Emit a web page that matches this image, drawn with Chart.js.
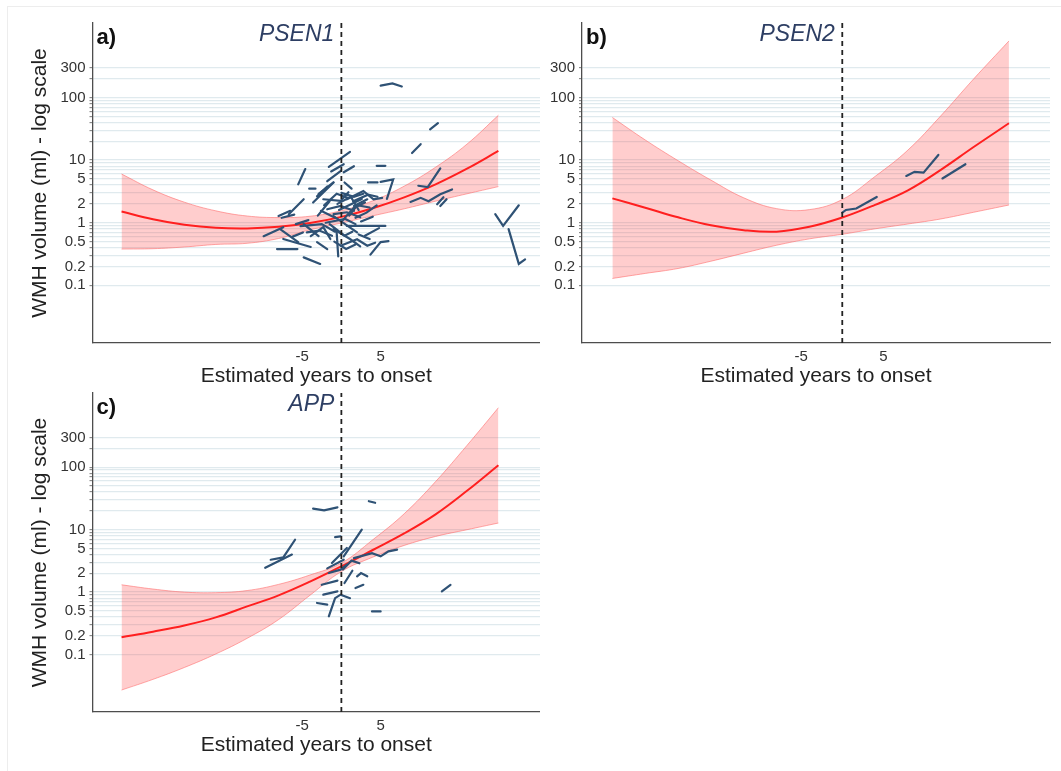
<!DOCTYPE html>
<html>
<head>
<meta charset="utf-8">
<script src="https://cdn.jsdelivr.net/npm/chart.js@4.4.0/dist/chart.umd.min.js"></script>
<style>
  body { margin: 0; background: #fff; width: 1061px; height: 771px; overflow: hidden; position: relative; }
  canvas { position: absolute; }
  #frame { position: absolute; left: 7px; top: 6px; right: 0; bottom: 0; border-top: 1px solid #ededed; border-left: 1px solid #ededed; }
</style>
</head>
<body>
<div id="frame"></div>
<canvas id="psen1" width="540" height="389" style="left:0;top:0"></canvas>
<canvas id="psen2" width="521" height="389" style="left:540px;top:0"></canvas>
<canvas id="app" width="540" height="388" style="left:0;top:370px"></canvas>
<script>
// ---- data ----
// fitted trajectory (ml) and its band, at these estimated years to onset
const psen1Years = [-28, -24, -20, -16, -12, -8, -4, 0, 4, 8, 12, 16, 20];
const psen1Fit   = [1.51, 1.14, 0.93, 0.83, 0.81, 0.86, 0.99, 1.24, 1.70, 2.54, 4.1, 7.3, 14];
const psen1Hi    = [6.0, 3.35, 2.13, 1.55, 1.28, 1.21, 1.27, 1.56, 2.24, 3.84, 7.7, 18, 52];
const psen1Lo    = [0.38, 0.385, 0.41, 0.45, 0.47, 0.56, 0.77, 0.99, 1.29, 1.67, 2.21, 2.9, 3.78];

const psen2Years = [-28, -24, -20, -16, -12, -8, -4, 0, 4, 8, 12, 16, 20.3];
const psen2Fit   = [2.45, 1.74, 1.22, 0.91, 0.76, 0.72, 0.86, 1.21, 1.93, 3.3, 7.0, 16.2, 38.8];
const psen2Hi    = [48, 21, 9.8, 4.8, 2.5, 1.68, 1.62, 2.35, 5.5, 14.5, 51, 198, 800];
const psen2Lo    = [0.129, 0.155, 0.186, 0.243, 0.327, 0.437, 0.553, 0.655, 0.80, 0.955, 1.15, 1.47, 1.92];

const appYears = [-28, -24, -20, -16, -12, -8, -4, 0, 4, 8, 12, 16, 20];
const appFit   = [0.189, 0.232, 0.292, 0.394, 0.59, 0.887, 1.47, 2.59, 4.73, 8.7, 17.6, 42, 108];
const appHi    = [1.31, 1.12, 1.0, 0.98, 1.06, 1.33, 1.88, 2.92, 6.9, 18, 59, 224, 900];
const appLo    = [0.027, 0.040, 0.062, 0.102, 0.182, 0.363, 0.89, 2.14, 3.63, 5.6, 7.8, 10, 12.8];

// individual subject trajectories: [years, ml] pairs
const psen1Lines = [
  [[5.0,155],[6.5,168],[7.7,150]],
  [[11.3,31],[12.3,39]],
  [[9.0,13],[10.1,18]],
  [[4.5,8.1],[5.6,8.1]],
  [[-1.6,7.8],[1.1,13.5]],
  [[-1.3,6.6],[0.3,8.6]],
  [[-5.5,4.1],[-4.6,7.2]],
  [[-4.1,3.5],[-3.3,3.5]],
  [[-2.9,2.9],[-1.0,4.4]],
  [[-1.8,4.6],[-0.1,6.7]],
  [[0.3,6.4],[1.6,8.0]],
  [[3.4,4.4],[4.6,4.4]],
  [[5.0,4.5],[6.6,4.9],[5.8,2.4]],
  [[9.8,3.9],[11.0,3.7],[12.6,7.4]],
  [[8.8,2.15],[10.1,2.5],[11.1,2.2],[12.6,2.85],[14.1,3.4]],
  [[12.2,1.97],[13.0,2.55]],
  [[12.6,1.85],[13.4,2.37]],
  [[19.6,1.37],[20.6,0.89],[22.6,1.9]],
  [[21.3,0.79],[22.6,0.22],[23.4,0.26]],
  [[-6.7,1.37],[-4.8,2.37]],
  [[-8.0,1.28],[-6.5,1.55]],
  [[-7.6,1.2],[-6.0,1.35]],
  [[-3.6,2.1],[-1.0,4.4]],
  [[-3.1,2.65],[-1.8,3.8]],
  [[-2.3,2.37],[-0.1,2.23],[0.9,3.07]],
  [[-1.8,1.64],[-0.1,1.85],[1.6,1.55]],
  [[-1.0,1.37],[0.7,1.47],[2.4,1.22]],
  [[0.7,2.37],[2.8,3.2],[4.1,2.37],[5.2,2.5]],
  [[1.6,1.85],[3.3,2.37]],
  [[-1.0,1.28],[2.0,0.7]],
  [[-4.8,0.95],[-2.9,0.61]],
  [[-8.2,0.38],[-5.6,0.38]],
  [[-4.8,0.28],[-2.7,0.22]],
  [[-0.1,0.43],[2.0,0.545],[3.3,0.43],[4.3,0.48]],
  [[3.7,0.31],[5.0,0.49],[6.0,0.51]],
  [[-9.9,0.61],[-7.4,0.85]],
  [[-7.8,0.79],[-5.5,0.49]],
  [[-7.4,0.55],[-3.9,0.41]],
  [[-3.9,0.61],[-2.3,0.85],[-1.4,0.55]],
  [[-3.1,0.49],[-1.8,0.38]],
  [[-1.0,0.79],[1.1,0.55],[2.4,0.42]],
  [[-0.6,0.7],[-0.4,0.29]],
  [[0.7,0.89],[5.6,0.89]],
  [[3.0,0.62],[4.8,0.82]],
  [[-5.2,0.88],[-2.5,0.95],[-0.8,0.72]],
  [[-2.0,1.0],[0.5,1.15],[1.8,0.95]],
  [[-0.5,2.0],[1.2,2.6],[2.2,1.6]],
  [[0.2,1.1],[1.5,1.7],[3.0,2.1]],
  [[-3.0,1.3],[-1.5,2.2]],
  [[1.0,1.3],[2.0,1.9],[3.6,1.75]],
  [[-5.8,0.95],[-4.2,1.1]],
  [[-1.5,0.95],[0.4,0.62],[1.4,0.72]],
  [[2.5,1.05],[4.0,1.25]],
  [[-2.6,1.55],[-0.8,1.2]],
  [[0.0,3.0],[1.6,2.6],[2.8,2.9]],
  [[1.5,2.2],[3.4,2.8],[4.6,2.6]],
  [[-2.2,1.9],[-0.6,2.9],[0.8,2.5]],
  [[-0.3,1.6],[1.3,2.0],[2.6,2.4]],
  [[1.8,1.2],[3.2,1.45],[4.5,1.9]],
  [[-4.4,0.7],[-2.8,0.75],[-1.2,0.62]],
  [[-0.9,0.5],[0.6,0.38],[1.8,0.45]],
  [[2.2,0.65],[3.6,0.55]],
  [[-6.2,0.6],[-4.9,0.7]],
  [[0.4,4.4],[1.3,3.5]]
];

const psen2Lines = [
  [[0.0,1.45],[0.45,1.6],[1.7,1.69],[4.2,2.58]],
  [[7.8,5.6],[8.8,6.5],[9.9,6.3],[11.7,12.1]],
  [[12.2,5.1],[15.0,8.6]]
];

const appLines = [
  [[-3.6,21.8],[-2.2,20.4],[-0.5,22.8]],
  [[3.5,28.6],[4.3,27]],
  [[-0.8,7.6],[-0.1,7.8]],
  [[-9.0,3.3],[-7.4,3.6],[-5.9,6.9]],
  [[-9.7,2.45],[-6.3,4.0]],
  [[-1.2,2.92],[0.7,5.1]],
  [[0.3,3.74],[2.6,10.0]],
  [[1.6,3.5],[3.9,4.2],[5.0,3.74],[6.0,4.5],[7.1,4.8]],
  [[-1.6,2.02],[-0.1,2.29],[0.7,2.76]],
  [[-2.5,1.31],[-0.5,1.53]],
  [[2.0,1.79],[2.5,2.02],[3.3,1.79]],
  [[1.8,1.16],[2.8,1.31]],
  [[-2.3,0.91],[-0.5,1.03]],
  [[-3.1,0.67],[-1.8,0.63]],
  [[-1.6,0.41],[-0.8,0.8],[-0.1,0.91],[1.1,0.8]],
  [[3.9,0.49],[5.0,0.49]],
  [[12.8,1.03],[13.9,1.31]],
  [[-1.8,2.4],[0.3,3.3]],
  [[0.4,1.4],[1.4,2.2]],
  [[0.2,2.3],[1.3,3.2],[2.3,2.9]]
];

// axis ticks
const xTickVals = [-5, 5];
const yTickLabels = [0.1, 0.2, 0.5, 1, 2, 5, 10, 100, 300];
const xRange = [-31.7, 25.3];
const yRange = [0.012, 1550];

// ---- styling ----
const FONT = '"Liberation Sans", Arial, Helvetica, sans-serif';
const subjColour = '#2f5275';
const fitColour = '#ff1f1f';
const bandFill = 'rgba(255, 40, 40, 0.23)';
const bandEdge = 'rgba(255, 110, 110, 0.6)';
const gridColour = '#e0eaee';

// minor log gridlines 0.1 .. 300
const yGridVals = [];
for (let k = -1; k <= 2; k++) {
  for (let m = 1; m <= 9; m++) {
    const v = +(m * Math.pow(10, k)).toPrecision(2);
    if (v <= 300) yGridVals.push(v);
  }
}

const panelText = {
  id: 'panelText',
  afterDatasetsDraw(chart, args, opts) {
    const { ctx, scales: { x, y } } = chart;
    ctx.save();
    ctx.textBaseline = 'middle';
    ctx.font = 'bold 22px ' + FONT;
    ctx.fillStyle = '#111';
    ctx.textAlign = 'left';
    ctx.fillText(opts.letter, x.left + 4, y.getPixelForValue(880));
    ctx.font = 'italic 23px ' + FONT;
    ctx.fillStyle = '#2d3e63';
    ctx.textAlign = 'right';
    ctx.fillText(opts.gene, x.getPixelForValue(-0.9), y.getPixelForValue(1000));
    ctx.restore();
  }
};

function buildDatasets(years, fit, lo, hi, lines) {
  const pts = arr => years.map((x, i) => ({ x: x, y: arr[i] }));
  const ds = [];
  // onset marker
  ds.push({ data: [{ x: 0, y: yRange[0] }, { x: 0, y: yRange[1] }],
            borderColor: '#222', borderWidth: 1.8, borderDash: [5, 4], order: 0 });
  lines.forEach(l => ds.push({
    data: l.map(p => ({ x: p[0], y: p[1] })),
    borderColor: subjColour, borderWidth: 2.2, borderCapStyle: 'round', order: 1
  }));
  ds.push({ data: pts(fit), borderColor: fitColour, borderWidth: 2, tension: 0.4, order: 2 });
  ds.push({ data: pts(lo), borderColor: bandEdge, borderWidth: 1, tension: 0.4, order: 3 });
  ds.push({ data: pts(hi), borderColor: bandEdge, borderWidth: 1, tension: 0.4,
            fill: '-1', backgroundColor: bandFill, order: 4 });
  return ds;
}

function makePanel(id, letter, gene, years, fit, lo, hi, lines, withYTitle, yWidth, padRight) {
  new Chart(document.getElementById(id), {
    type: 'scatter',
    data: { datasets: buildDatasets(years, fit, lo, hi, lines) },
    options: {
      responsive: false,
      animation: false,
      devicePixelRatio: 1,
      layout: { padding: { left: withYTitle ? 28 : 0, top: 23, right: padRight, bottom: 0 } },
      datasets: { scatter: { showLine: true, pointRadius: 0, pointHoverRadius: 0, fill: false } },
      plugins: {
        legend: { display: false },
        tooltip: { enabled: false },
        panelText: { letter: letter, gene: gene }
      },
      scales: {
        x: {
          type: 'linear',
          min: xRange[0], max: xRange[1],
          afterBuildTicks: s => { s.ticks = xTickVals.map(v => ({ value: v })); },
          afterFit: s => { s.height = 46; },
          grid: { display: false, drawTicks: false },
          border: { display: true, color: '#4d4d4d', width: 1.3 },
          ticks: { padding: 5, color: '#333', font: { family: FONT, size: 15 }, callback: v => String(v) },
          title: { display: true, text: 'Estimated years to onset', color: '#222',
                   font: { family: FONT, size: 21 }, padding: { top: 0, bottom: 0 } }
        },
        y: {
          type: 'logarithmic',
          min: yRange[0], max: yRange[1],
          afterBuildTicks: s => { s.ticks = yGridVals.map(v => ({ value: v })); },
          afterFit: s => { s.width = yWidth; },
          grid: { color: gridColour, lineWidth: 1.3, tickLength: 3, tickColor: '#777', tickWidth: 1 },
          border: { display: true, color: '#4d4d4d', width: 1.3 },
          ticks: {
            autoSkip: false, padding: 4, color: '#333', font: { family: FONT, size: 15 },
            callback: v => yTickLabels.includes(v) ? String(v) : ''
          },
          title: { display: withYTitle, text: 'WMH volume (ml) - log scale', color: '#222',
                   font: { family: FONT, size: 21 }, padding: { top: 0, bottom: 0 } }
        }
      }
    },
    plugins: [panelText]
  });
}

makePanel('psen1', 'a)', 'PSEN1', psen1Years, psen1Fit, psen1Lo, psen1Hi, psen1Lines, true, 64.5, 0);
makePanel('psen2', 'b)', 'PSEN2', psen2Years, psen2Fit, psen2Lo, psen2Hi, psen2Lines, false, 42, 11);
makePanel('app', 'c)', 'APP', appYears, appFit, appLo, appHi, appLines, true, 64.5, 0);
</script>
</body>
</html>
